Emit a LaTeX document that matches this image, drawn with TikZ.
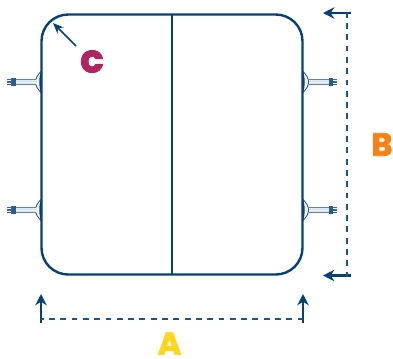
\documentclass[tikz,border=0pt]{standalone}
\usepackage{fontspec}
\newfontfamily\letterfont[FakeBold=2.5]{Poppins Bold}
\usetikzlibrary{arrows.meta}
\definecolor{navy}{HTML}{04407A}
\definecolor{magentaC}{HTML}{B02560}
\definecolor{orangeB}{HTML}{FF7F0F}
\definecolor{yellowA}{HTML}{FFD619}
\tikzset{
  wall/.style={draw=navy,line width=1.8pt},
  thin part/.style={draw=navy!85,line width=0.7pt},
  dimline/.style={draw=navy!90,line width=1.5pt},
  dimarrow/.style={draw=navy,line width=1.6pt,-{Stealth[length=8.5pt,width=8.5pt]}},
  pointer/.style={draw=navy,line width=1.2pt,-{Stealth[length=8pt,width=6.5pt]}},
  letter/.style={inner sep=0pt,anchor=center,font=\letterfont\fontsize{24}{24}\selectfont}
}
\newcommand{\lughandle}[3]{% x of wall, y, direction
  \begin{scope}[shift={(#1,#2)},xscale=#3]
    \fill[navy] (0,-11) .. controls (3,-6) and (3,6) .. (0,11) -- (0,-11);
    \draw[thin part] (0,-11) .. controls (4,-7) and (6,-4) .. (6,0) .. controls (6,4) and (4,7) .. (0,11);
    \fill[navy!12] (6,-2.4) rectangle (30,2.4);
    \draw[draw=navy!65,line width=1pt] (6,-2.6) -- (30,-2.6) (6,2.6) -- (30,2.6);
    \fill[navy!85] (26,-3.6) rectangle (30.5,3.6);
    \draw[draw=navy!80,line width=0.8pt] (30,-2.2) -- (34.5,-2.2) (30,0) -- (34.5,0) (30,2.2) -- (34.5,2.2);
  \end{scope}
}
\begin{document}
\begin{tikzpicture}[x=0.75pt,y=-0.75pt]
\useasboundingbox (0,0) rectangle (393,358);
\coordinate (ctop) at (172,14.5);
\coordinate (cbot) at (172,274.5);
% handles
\lughandle{41.5}{82}{-1}
\lughandle{41.5}{210}{-1}
\lughandle{302.5}{82}{1}
\lughandle{302.5}{210}{1}
% panel
\draw[wall,rounded corners=20pt] (41.5,14.5) rectangle (302.5,274.5);
\draw[wall,line width=1.5pt] (ctop) -- (cbot);
% C
\node[letter,text=magentaC,font=\letterfont\fontsize{29}{29}\selectfont] (c) at (92,61.5) {c};
\coordinate (cfrom) at (76,46);
\coordinate (cto) at (53,23);
\draw[pointer] (cfrom) -- (cto);
% B
\node[letter,text=orangeB] (b) at (382,144.5) {B};
\coordinate (bt0) at (351,13);
\coordinate (bt1) at (323,13);
\coordinate (bb0) at (351,275.5);
\coordinate (bb1) at (323,275.5);
\coordinate (bd0) at (346.5,13);
\coordinate (bd1) at (346.5,277);
\draw[dimarrow] (bt0) -- (bt1);
\draw[dimarrow] (bb0) -- (bb1);
\draw[dimline,dash pattern=on 4.4pt off 4.08pt,dash phase=1pt] (bd0) -- (bd1);
% A
\node[letter,text=yellowA] (a) at (169.5,343.5) {A};
\coordinate (al0) at (41,322.5);
\coordinate (al1) at (41,294);
\coordinate (ar0) at (303,322.5);
\coordinate (ar1) at (303,294);
\coordinate (ad0) at (41,318.5);
\coordinate (ad1) at (303,318.5);
\draw[dimarrow] (al0) -- (al1);
\draw[dimarrow] (ar0) -- (ar1);
\draw[dimline,dash pattern=on 4.4pt off 4.08pt,dash phase=2.5pt] (ad0) -- (ad1);
\end{tikzpicture}
\end{document}
